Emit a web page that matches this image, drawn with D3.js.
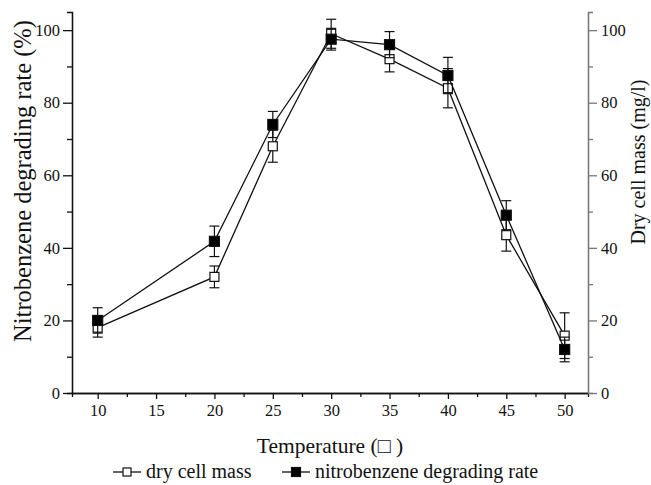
<!DOCTYPE html>
<html><head><meta charset="utf-8">
<script src="https://cdn.jsdelivr.net/npm/d3@7"></script>
<style>body{margin:0;background:#fff}</style>
</head><body><svg id="c" width="651" height="485"></svg>
<script>
const temps = [10, 20, 25, 30, 35, 40, 45, 50];
const degradingRate = [20, 41.8, 74, 97.5, 96, 87.5, 49, 12];
const degradingErr = [3.5, 4.2, 3.6, 3.0, 3.6, 5.0, 4.0, 3.4];
const dryCellMass = [18, 32, 68, 99, 92, 84, 43.5, 15.8];
const dryCellErr = [2.6, 3.0, 4.4, 4.0, 3.5, 5.4, 4.4, 6.3];
const xTicks = [10, 15, 20, 25, 30, 35, 40, 45, 50];
const yTicks = [0, 20, 40, 60, 80, 100];

const FONT = "Liberation Serif";
const svg = d3.select("#c").attr("font-family", FONT);
const L = 72, R = 588, T = 12, B = 393;
const x = d3.scaleLinear().domain([7.8, 52]).range([L, R]);
const yL = d3.scaleLinear().domain([0, 105]).range([B, T]);
const yR = d3.scaleLinear().domain([0, 105]).range([B, T]);

function styleAxis(g, color) {
  g.attr("font-family", FONT);
  g.selectAll("path").attr("stroke", color).attr("stroke-width", 1.3);
  g.selectAll("line").attr("stroke", color).attr("stroke-width", 1.3);
  g.selectAll("text").attr("font-family", FONT).attr("font-size", 16.5).attr("fill", "#111");
}
// minor ticks
const gxm = svg.append("g").attr("transform", `translate(0,${B})`)
  .call(d3.axisBottom(x).tickValues(d3.range(7.5, 52.5, 5).filter(v => v > 7.8)).tickSize(4).tickFormat(""));
styleAxis(gxm, "#111");
const gx = svg.append("g").attr("transform", `translate(0,${B})`)
  .call(d3.axisBottom(x).tickValues(xTicks).tickSize(6).tickSizeOuter(0).tickPadding(5));
styleAxis(gx, "#111");

const gym = svg.append("g").attr("transform", `translate(${L},0)`)
  .call(d3.axisLeft(yL).tickValues([10, 30, 50, 70, 90]).tickSize(5).tickFormat(""));
styleAxis(gym, "#111");
const gy = svg.append("g").attr("transform", `translate(${L},0)`)
  .call(d3.axisLeft(yL).tickValues(yTicks).tickSize(9).tickSizeOuter(0).tickPadding(3));
styleAxis(gy, "#111");

const gyrm = svg.append("g").attr("transform", `translate(${R},0)`)
  .call(d3.axisRight(yR).tickValues([10, 30, 50, 70, 90]).tickSize(5).tickFormat(""));
styleAxis(gyrm, "#777");
const gyr = svg.append("g").attr("transform", `translate(${R},0)`)
  .call(d3.axisRight(yR).tickValues(yTicks).tickSize(9).tickSizeOuter(0).tickPadding(4));
styleAxis(gyr, "#777");

// axis titles
svg.append("text").attr("x", 330).attr("y", 453).attr("text-anchor", "middle").attr("font-family", FONT)
  .attr("font-size", 21.5).attr("fill", "#111").text("Temperature (\u25A1 )");
svg.append("text").attr("transform", "translate(31,181) rotate(-90)").attr("text-anchor", "middle").attr("font-family", FONT)
  .attr("font-size", 24.5).attr("fill", "#111").text("Nitrobenzene degrading rate (%)");
svg.append("text").attr("transform", "translate(645,162) rotate(-90)").attr("text-anchor", "middle").attr("font-family", FONT)
  .attr("font-size", 20).attr("fill", "#111").text("Dry cell mass (mg/l)");

function series(vals, errs, ys, filled) {
  const data = temps.map((t, i) => ({t, v: vals[i], e: errs[i]}));
  const line = d3.line().x(d => x(d.t)).y(d => ys(d.v));
  svg.append("path").datum(data).attr("d", line).attr("fill", "none").attr("stroke", "#111").attr("stroke-width", 1.3);
  const g = svg.append("g");
  data.forEach(d => {
    const cx = x(d.t);
    g.append("line").attr("x1", cx).attr("x2", cx).attr("y1", ys(d.v + d.e)).attr("y2", ys(d.v - d.e)).attr("stroke", "#111").attr("stroke-width", 1.2);
    [d.v + d.e, d.v - d.e].forEach(v => g.append("line").attr("x1", cx - 5).attr("x2", cx + 5).attr("y1", ys(v)).attr("y2", ys(v)).attr("stroke", "#111").attr("stroke-width", 1.2));
  });
  data.forEach(d => {
    const s = filled ? 10 : 9;
    g.append("rect").attr("x", x(d.t) - s / 2).attr("y", ys(d.v) - s / 2).attr("width", s).attr("height", s)
      .attr("fill", filled ? "#000" : "#fff").attr("stroke", "#111").attr("stroke-width", 1.2);
  });
}
series(dryCellMass, dryCellErr, yR, false);
series(degradingRate, degradingErr, yL, true);

// legend
const lg = svg.append("g").attr("transform", "translate(0,478)");
function legItem(x0, filled, label) {
  lg.append("line").attr("x1", x0).attr("x2", x0 + 28).attr("y1", -6).attr("y2", -6).attr("stroke", "#111").attr("stroke-width", 1.3);
  const s = filled ? 9 : 8;
  lg.append("rect").attr("x", x0 + 14 - s / 2).attr("y", -6 - s / 2).attr("width", s).attr("height", s)
    .attr("fill", filled ? "#000" : "#fff").attr("stroke", "#111").attr("stroke-width", 1.2);
  lg.append("text").attr("x", x0 + 33).attr("y", 0).attr("font-family", FONT).attr("font-size", 20).attr("fill", "#111").text(label);
}
legItem(113, false, "dry cell mass");
legItem(282, true, "nitrobenzene degrading rate");
</script></body></html>
